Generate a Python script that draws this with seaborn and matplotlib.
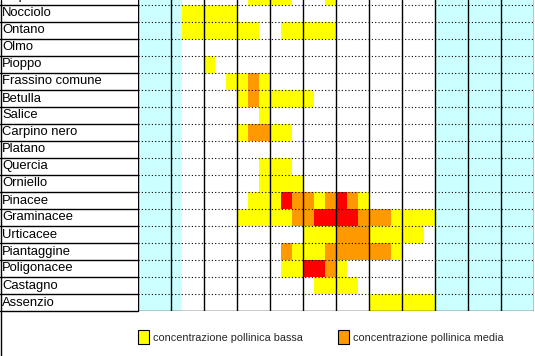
import numpy as np
import pandas as pd
import seaborn as sns
import matplotlib.pyplot as plt
from matplotlib.colors import ListedColormap
from matplotlib.patches import Patch
from matplotlib.lines import Line2D

# Pollen calendar: one value per decade (3 per month, Jan..Dec)
# 0 = assente, 1 = bassa, 2 = media, 3 = alta
species = [
    "Cupressacee/Taxacee", "Nocciolo", "Ontano", "Olmo", "Pioppo",
    "Frassino comune", "Betulla", "Salice", "Carpino nero", "Platano",
    "Quercia", "Orniello", "Pinacee", "Graminacee", "Urticacee",
    "Piantaggine", "Poligonacee", "Castagno", "Assenzio",
]

levels = [
    #  gen     feb     mar     apr     mag     giu     lug     ago     set     ott     nov     dic
    [0,0,0, 0,0,0, 0,0,0, 0,1,1, 1,1,0, 0,0,1, 0,0,0, 0,0,0, 0,0,0, 0,0,0, 0,0,0, 0,0,0],  # Cupressacee
    [0,0,0, 0,1,1, 1,1,1, 0,0,0, 0,0,0, 0,0,0, 0,0,0, 0,0,0, 0,0,0, 0,0,0, 0,0,0, 0,0,0],  # Nocciolo
    [0,0,0, 0,1,1, 1,1,1, 1,1,0, 0,1,1, 1,1,1, 0,0,0, 0,0,0, 0,0,0, 0,0,0, 0,0,0, 0,0,0],  # Ontano
    [0,0,0, 0,0,0, 0,0,0, 0,0,0, 0,0,0, 0,0,0, 0,0,0, 0,0,0, 0,0,0, 0,0,0, 0,0,0, 0,0,0],  # Olmo
    [0,0,0, 0,0,0, 1,0,0, 0,0,0, 0,0,0, 0,0,0, 0,0,0, 0,0,0, 0,0,0, 0,0,0, 0,0,0, 0,0,0],  # Pioppo
    [0,0,0, 0,0,0, 0,0,1, 1,2,1, 0,0,0, 0,0,0, 0,0,0, 0,0,0, 0,0,0, 0,0,0, 0,0,0, 0,0,0],  # Frassino
    [0,0,0, 0,0,0, 0,0,0, 1,2,1, 1,1,1, 1,0,0, 0,0,0, 0,0,0, 0,0,0, 0,0,0, 0,0,0, 0,0,0],  # Betulla
    [0,0,0, 0,0,0, 0,0,0, 0,0,1, 0,0,0, 0,0,0, 0,0,0, 0,0,0, 0,0,0, 0,0,0, 0,0,0, 0,0,0],  # Salice
    [0,0,0, 0,0,0, 0,0,0, 1,2,2, 1,1,0, 0,0,0, 0,0,0, 0,0,0, 0,0,0, 0,0,0, 0,0,0, 0,0,0],  # Carpino nero
    [0,0,0, 0,0,0, 0,0,0, 0,0,0, 0,0,0, 0,0,0, 0,0,0, 0,0,0, 0,0,0, 0,0,0, 0,0,0, 0,0,0],  # Platano
    [0,0,0, 0,0,0, 0,0,0, 0,0,1, 1,1,0, 0,0,0, 0,0,0, 0,0,0, 0,0,0, 0,0,0, 0,0,0, 0,0,0],  # Quercia
    [0,0,0, 0,0,0, 0,0,0, 0,0,1, 1,1,1, 0,0,0, 0,0,0, 0,0,0, 0,0,0, 0,0,0, 0,0,0, 0,0,0],  # Orniello
    [0,0,0, 0,0,0, 0,0,0, 0,1,1, 1,3,2, 2,1,2, 3,2,1, 0,0,0, 0,0,0, 0,0,0, 0,0,0, 0,0,0],  # Pinacee
    [0,0,0, 0,0,0, 0,0,0, 1,1,1, 1,1,2, 2,3,3, 3,3,2, 2,2,1, 1,1,1, 0,0,0, 0,0,0, 0,0,0],  # Graminacee
    [0,0,0, 0,0,0, 0,0,0, 0,0,0, 0,0,0, 1,1,1, 2,2,2, 1,1,1, 1,1,0, 0,0,0, 0,0,0, 0,0,0],  # Urticacee
    [0,0,0, 0,0,0, 0,0,0, 0,0,0, 0,2,1, 1,1,2, 2,2,2, 2,2,1, 0,0,0, 0,0,0, 0,0,0, 0,0,0],  # Piantaggine
    [0,0,0, 0,0,0, 0,0,0, 0,0,0, 0,1,1, 3,3,2, 1,0,0, 0,0,0, 0,0,0, 0,0,0, 0,0,0, 0,0,0],  # Poligonacee
    [0,0,0, 0,0,0, 0,0,0, 0,0,0, 0,0,0, 0,1,1, 1,1,0, 0,0,0, 0,0,0, 0,0,0, 0,0,0, 0,0,0],  # Castagno
    [0,0,0, 0,0,0, 0,0,0, 0,0,0, 0,0,0, 0,0,0, 0,0,0, 1,1,1, 1,1,1, 0,0,0, 0,0,0, 0,0,0],  # Assenzio
]

# decades without monitoring (shaded light blue)
closed_decades = [0, 1, 2, 3, 27, 28, 29, 30, 31, 32, 33, 34, 35]

legend_labels = ["concentrazione pollinica bassa", "concentrazione pollinica media"]
level_colors = ["#FFFFFF", "#FFFF00", "#FF9900", "#FF0000"]
closed_color = "#CCFFFF"

# Build the matrix (-1 marks closed decades)
df = pd.DataFrame(levels, index=species)
df[closed_decades] = -1

sns.set_style("white")
plt.rcParams["font.family"] = ["Liberation Sans", "DejaVu Sans"]

fig = plt.figure(figsize=(5.35, 3.56), dpi=100)
ax = fig.add_axes([138.3 / 535, 45 / 356, 396 / 535, 323 / 356])

cmap = ListedColormap([closed_color] + level_colors)
sns.heatmap(df, ax=ax, cmap=cmap, vmin=-1.5, vmax=3.5, cbar=False,
            xticklabels=False, yticklabels=True, linewidths=0)

n = len(species)
ncol = df.shape[1]

# month separators (solid) and row separators (dotted)
ax.vlines(np.arange(0, ncol + 1, 3), 0, n, colors="black", lw=1.0)
ax.hlines(np.arange(1, n), 0, ncol, colors="black", lw=0.8, linestyles=(0, (1, 2)))
ax.hlines(n, 0, ncol, colors="black", lw=1.0)

# solid lines in the label column
label_frac = 138.3 / 396
for y in range(1, n + 1):
    ax.plot([-label_frac, 0], [y, y], color="black", lw=1.0,
            transform=ax.get_yaxis_transform(), clip_on=False)

# outer left border
fig.add_artist(Line2D([0.6 / 535, 0.6 / 535], [0, 1], color="black", lw=1.0,
                      transform=fig.transFigure))

# row labels, left aligned in the label column
ax.tick_params(axis="y", length=0, pad=98, labelsize=9.4, labelcolor="black")
for t in ax.get_yticklabels():
    t.set_ha("left")
    t.set_rotation(0)
ax.set_xlabel("")
ax.set_ylabel("")

# legend
handles = [Patch(facecolor=c, edgecolor="black", lw=0.8, label=l)
           for c, l in zip(level_colors[1:3], legend_labels)]
fig.legend(handles=handles, loc="center left", bbox_to_anchor=(138.3 / 535, 19 / 356),
           ncol=2, frameon=False, fontsize=7.8, handlelength=1.0, handleheight=1.56,
           handletextpad=0.34, columnspacing=3.3, borderpad=0, borderaxespad=0)

fig.savefig("out.png", dpi=100)
